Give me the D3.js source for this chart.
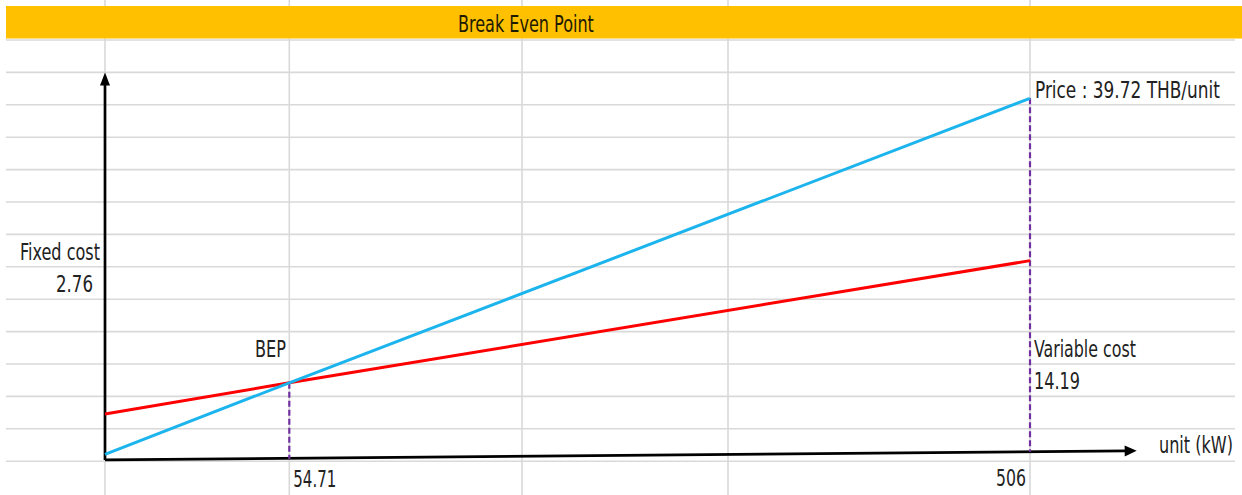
<!DOCTYPE html>
<html><head><meta charset="utf-8">
<script src="https://cdn.jsdelivr.net/npm/d3@7"></script>
<style>body{margin:0;background:#fff} svg{display:block}</style>
</head><body>
<svg id="c" width="1242" height="495"></svg>
<script>
// ---- data (schematic chart) ----
const units = [0, 54.71, 506];            // unit (kW): origin, BEP, capacity
const priceValues = [0.21, 2.42, 11.2];   // revenue line (schematic value units)
const costValues = [1.46, 2.42, 6.19];    // total cost line
const tickLabels = ["54.71", "506"];
const tickUnits = [54.71, 506];
const axisUnits = [0, 571];               // x axis arrow extent
const axisValues = [0.04, 0.32];          // drawn x axis (slightly tilted)
const yAxisValues = [0.04, 12];           // y axis arrow extent
const title = "Break Even Point";
const priceLabel = "Price : 39.72 THB/unit";
const fixedLabel = ["Fixed cost", "2.76"];
const variableLabel = ["Variable cost", "14.19"];
const bepLabel = "BEP";
const xTitle = "unit (kW)";

// ---- layout ----
const svg = d3.select("#c");
const W = 1242, H = 495;
const x = d3.scaleLinear().domain(units).range([105, 289.3, 1030]);
const y = d3.scaleLinear().domain([0, 12]).range([461.2, 72.4]);
const axisAt = d3.scaleLinear().domain(axisUnits).range(axisValues);
const FONT = "'DejaVu Sans Condensed','DejaVu Sans',sans-serif";
const TXT = "#222";

svg.append("rect").attr("width", W).attr("height", H).attr("fill", "#fff");

// spreadsheet grid
const grid = svg.append("g").attr("stroke", "#d9d9d9").attr("stroke-width", 1.6);
const rowVals = d3.range(0, 14);
grid.selectAll("line.h").data(rowVals).join("line")
  .attr("x1", 6).attr("x2", 1235)
  .attr("y1", d => y(d)).attr("y2", d => y(d));
const colEdges = [105, 289.3, 522, 728, 1030];
grid.selectAll("line.v").data(colEdges).join("line")
  .attr("x1", d => d).attr("x2", d => d)
  .attr("y1", 0).attr("y2", H);

// title band
svg.append("rect").attr("x", 6).attr("y", 6).attr("width", W - 6).attr("height", 32.5)
  .attr("fill", "#FFC000");

// narrow, tall text (measured then scaled to the reference's width)
function label(t, xx, yy, anchor, w, color) {
  const el = svg.append("text").attr("text-anchor", anchor)
    .attr("font-family", FONT).attr("font-size", 18).attr("fill", color || TXT).text(t);
  const len = el.node().getComputedTextLength();
  el.attr("transform", `translate(${xx},${yy}) scale(${w / len},1.3)`);
  return el;
}
label(title, 458, 31.5, "start", 136, "#1e1a00");

// arrow helper
function arrow(x1, y1, x2, y2, len, wid) {
  const dx = x2 - x1, dy = y2 - y1, L = Math.hypot(dx, dy);
  const ux = dx / L, uy = dy / L;
  const bx = x2 - ux * len, by = y2 - uy * len;
  svg.append("line").attr("x1", x1).attr("y1", y1).attr("x2", bx + ux * 2).attr("y2", by + uy * 2)
    .attr("stroke", "#000").attr("stroke-width", 2.7);
  const px = -uy * wid / 2, py = ux * wid / 2;
  svg.append("path")
    .attr("d", `M${x2},${y2}L${bx + px},${by + py}L${bx - px},${by - py}Z`)
    .attr("fill", "#000");
}

// axes
arrow(x(0), y(yAxisValues[0]), x(0), y(yAxisValues[1]), 13, 10);
arrow(x(axisUnits[0]), y(axisValues[0]), x(axisUnits[1]), y(axisValues[1]), 12, 11);

// dashed guides
const dash = svg.append("g").attr("stroke", "#7030A0").attr("stroke-width", 2.2)
  .attr("stroke-dasharray", "6,3");
dash.append("line").attr("x1", x(units[1])).attr("x2", x(units[1]))
  .attr("y1", y(priceValues[1])).attr("y2", y(axisAt(units[1])));
dash.append("line").attr("x1", x(units[2])).attr("x2", x(units[2]))
  .attr("y1", y(priceValues[2])).attr("y2", y(axisAt(units[2])));

// lines
const line = d3.line().x(d => x(d[0])).y(d => y(d[1]));
svg.append("path").datum(d3.zip(units, costValues)).attr("d", line)
  .attr("fill", "none").attr("stroke", "#FF0000").attr("stroke-width", 3);
svg.append("path").datum(d3.zip(units, priceValues)).attr("d", line)
  .attr("fill", "none").attr("stroke", "#1CB4EC").attr("stroke-width", 3);

// labels
label(priceLabel, x(506) + 5, 98, "start", 185);
label(fixedLabel[0], 100, 260, "end", 80);
label(fixedLabel[1], 93, 292, "end", 37);
label(bepLabel, 255, 357, "start", 31);
label(variableLabel[0], x(506) + 4, 357, "start", 102);
label(variableLabel[1], x(506) + 4, 389, "start", 46);
label(xTitle, 1159, 453, "start", 74);
label(tickLabels[0], x(tickUnits[0]) + 4, 487, "start", 43);
label(tickLabels[1], x(tickUnits[1]) - 4, 486, "end", 30);
</script>
</body></html>
